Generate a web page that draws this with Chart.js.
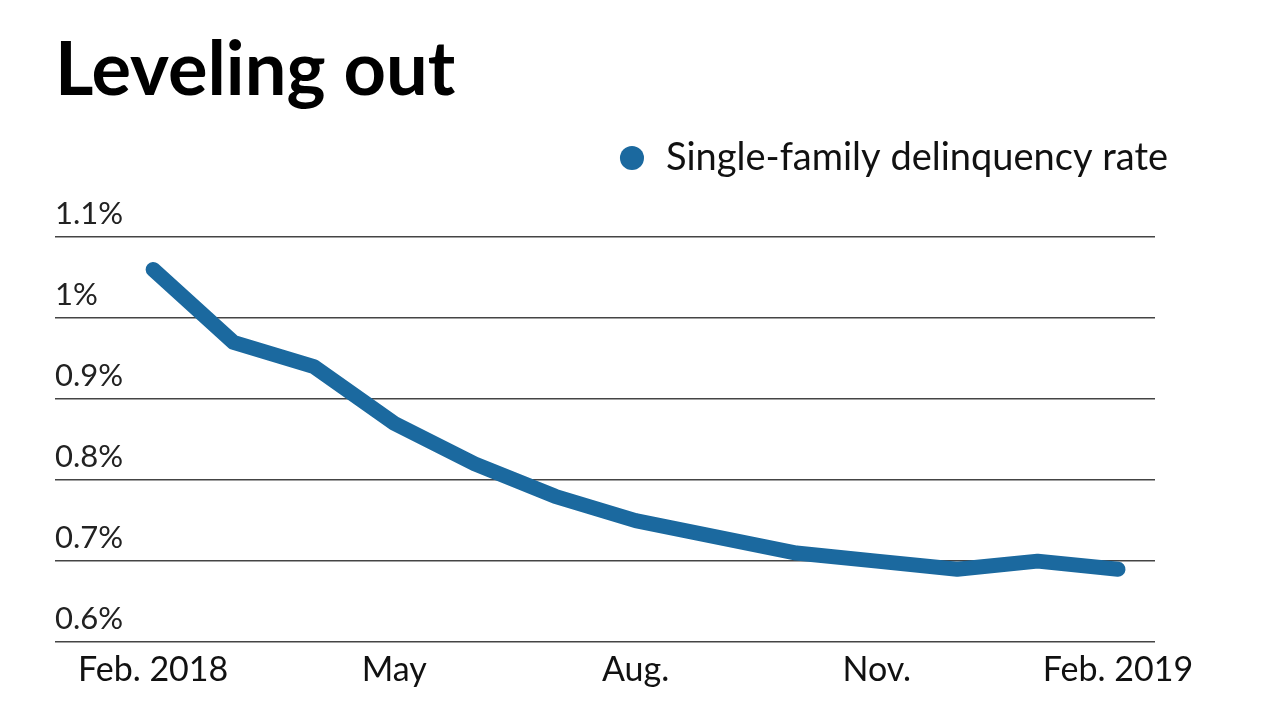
<!DOCTYPE html>
<html>
<head>
<meta charset="utf-8">
<title>Leveling out</title>
<script src="https://cdn.jsdelivr.net/npm/chart.js@4/dist/chart.umd.min.js"></script>
<style>
  html, body { margin: 0; padding: 0; background: #fff; }
  #wrap { width: 1280px; height: 720px; }
</style>
</head>
<body>
<div id="wrap"><canvas id="myChart" width="1280" height="720"></canvas></div>
<script>
// data
const months = ['Feb. 2018', 'Mar.', 'Apr.', 'May', 'Jun.', 'Jul.', 'Aug.', 'Sep.', 'Oct.', 'Nov.', 'Dec.', 'Jan.', 'Feb. 2019'];
const rates = [1.06, 0.97, 0.94, 0.87, 0.82, 0.78, 0.75, 0.73, 0.71, 0.70, 0.69, 0.70, 0.69];
const tickIndexes = [0, 3, 6, 9, 12];
const seriesName = 'Single-family delinquency rate';

const blue = '#1b699f';
const font = 'Lato, "Noto Sans", sans-serif';

const points = [];
for (let i = 0; i < rates.length; i++) {
  points.push({ x: i, y: rates[i] });
}

const ctx = document.getElementById('myChart').getContext('2d');

const myChart = new Chart(ctx, {
  type: 'line',
  data: {
    datasets: [{
      label: seriesName,
      data: points,
      borderColor: blue,
      backgroundColor: blue,
      pointBackgroundColor: blue,
      pointBorderWidth: 0,
      pointRadius: 0,
      borderWidth: 15,
      borderCapStyle: 'round',
      borderJoinStyle: 'round',
      tension: 0,
      fill: false
    }]
  },
  options: {
    responsive: false,
    animation: false,
    layout: { padding: { left: 55, right: 102, top: 0, bottom: 23 } },
    plugins: {
      title: {
        display: true,
        text: 'Leveling out',
        align: 'start',
        color: '#000',
        font: { family: font, size: 74, weight: '700' },
        padding: { top: 26.6, bottom: 13.6 }
      },
      legend: {
        display: true,
        align: 'end',
        labels: {
          usePointStyle: true,
          pointStyle: 'circle',
          boxWidth: 30,
          boxHeight: 17,
          padding: 10,
          color: '#111',
          font: { family: font, size: 38, weight: '400' }
        }
      },
      tooltip: { enabled: false }
    },
    scales: {
      x: {
        type: 'linear',
        min: -1.22,
        max: 12.46,
        grid: { display: false, drawTicks: false },
        border: { display: false },
        afterBuildTicks: (axis) => {
          axis.ticks = tickIndexes.map(v => ({ value: v }));
        },
        ticks: {
          autoSkip: false,
          maxRotation: 0,
          padding: 7,
          color: '#111',
          font: { family: font, size: 34, weight: '400' },
          callback: (v) => months[v]
        }
      },
      y: {
        min: 0.6,
        max: 1.1,
        grid: { color: '#444', lineWidth: 1.5, drawTicks: false },
        border: { display: false },
        ticks: {
          stepSize: 0.1,
          mirror: true,
          padding: 0,
          labelOffset: -23,
          color: '#222',
          font: { family: font, size: 31, weight: '400' },
          callback: (v) => (Math.round(v * 10) / 10) + '%'
        }
      },
      // spacers so the plot area sits where the picture has it
      padTop: {
        type: 'linear',
        position: 'top',
        display: true,
        grid: { display: false, drawTicks: false },
        border: { display: false },
        ticks: { display: false },
        afterFit: (s) => { s.height = 50; }
      },
      padRight: {
        type: 'linear',
        position: 'right',
        display: true,
        grid: { display: false, drawTicks: false },
        border: { display: false },
        ticks: { display: false },
        afterFit: (s) => { s.width = 23; }
      }
    }
  }
});
</script>
</body>
</html>
